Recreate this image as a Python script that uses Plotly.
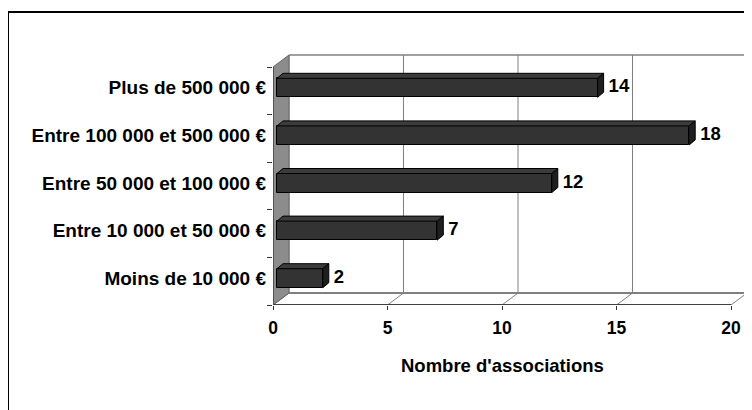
import plotly.graph_objects as go

# ---------------- data ----------------
categories = ["Moins de 10 000 €", "Entre 10 000 et 50 000 €", "Entre 50 000 et 100 000 €",
              "Entre 100 000 et 500 000 €", "Plus de 500 000 €"]
values = [2, 7, 12, 18, 14]
x_ticks = [0, 5, 10, 15, 20]
x_title = "Nombre d'associations"

# ---------------- geometry ----------------
OFF = 8                                # page body margin
W, H = 752 - OFF, 410 - OFF
M_L, M_R, M_T, M_B = 273 - OFF, 0, 50 - OFF, 105
X_MAX = 20
PX_X = 458 / X_MAX                     # pixels per x unit on front plane
PX_Y = 47.6                            # pixels per category
x_range = [0, (W - M_L - M_R) / PX_X]
y_lo = -0.5
y_hi_front = len(categories) - 0.5
y_range = [y_lo, y_lo + (H - M_T - M_B) / PX_Y]

DX, DY = 16 / PX_X, 12 / PX_Y          # full depth of the 3D box
BX, BY = 4 / PX_X, 3 / PX_Y            # bar front-face depth offset
FX, FY = 6 / PX_X, 5 / PX_Y            # bar depth
BAR_W = 19 / PX_Y
LBL_GAP = 5 / PX_X

FONT = "Liberation Sans, Arial, sans-serif"
GRID = "#808080"

fig = go.Figure()
shapes = []


def poly(pts, fill, line_color, lw=1):
    d = "M " + " L ".join(f"{x},{y}" for x, y in pts) + " Z"
    shapes.append(dict(type="path", path=d, xref="x", yref="y", fillcolor=fill,
                       line=dict(color=line_color, width=lw), layer="below"))


def seg(x0, y0, x1, y1, color, lw=1):
    shapes.append(dict(type="line", x0=x0, y0=y0, x1=x1, y1=y1, xref="x", yref="y",
                       line=dict(color=color, width=lw), layer="below"))


# floor
poly([(0, y_lo), (X_MAX, y_lo), (X_MAX + DX, y_lo + DY), (DX, y_lo + DY)], "white", "rgba(0,0,0,0)", 0)
# back wall gridlines + floor diagonals
for v in x_ticks:
    seg(v + DX, y_lo + DY, v + DX, y_hi_front + DY, GRID, 1)
    seg(v, y_lo, v + DX, y_lo + DY, GRID if v else "#555", 1)
# back wall edges
seg(DX, y_hi_front + DY, X_MAX + DX, y_hi_front + DY, GRID, 1.5)
seg(DX, y_lo + DY, X_MAX + DX, y_lo + DY, GRID, 2)
# left wall
poly([(0, y_lo), (0, y_hi_front), (DX, y_hi_front + DY), (DX, y_lo + DY)], "#8c8c8c", "#666", 1)
seg(0, y_lo, 0, y_hi_front, "#444", 1.5)
# front floor edge (x axis line)
seg(0, y_lo, X_MAX, y_lo, "#404040", 2)

# bars: front faces through the bar trace
ypos = list(range(len(categories)))
fig.add_trace(go.Bar(
    y=[p + BY for p in ypos], x=values, base=[BX] * len(values), orientation="h",
    width=BAR_W, marker=dict(color="#333333", line=dict(color="black", width=1)),
    hoverinfo="skip", showlegend=False,
))

# bars: top and side faces
for p, v in zip(ypos, values):
    x0, x1 = BX, BX + v
    yt, yb = p + BY + BAR_W / 2, p + BY - BAR_W / 2
    d_top = f"M {x0},{yt} L {x0+FX},{yt+FY} L {x1+FX},{yt+FY} L {x1},{yt} Z"
    d_side = f"M {x1},{yt} L {x1+FX},{yt+FY} L {x1+FX},{yb+FY} L {x1},{yb} Z"
    shapes.append(dict(type="path", path=d_top, xref="x", yref="y", fillcolor="#3c3c3c",
                       line=dict(color="black", width=1), layer="above"))
    shapes.append(dict(type="path", path=d_side, xref="x", yref="y", fillcolor="#1f1f1f",
                       line=dict(color="black", width=1), layer="above"))

# value labels
fig.add_trace(go.Scatter(
    x=[BX + v + FX + LBL_GAP for v in values], y=[p + BY for p in ypos],
    text=[str(v) for v in values], mode="text", textposition="middle right",
    textfont=dict(family=FONT, size=18.5, color="black", weight="bold"),
    hoverinfo="skip", showlegend=False, cliponaxis=False,
))

# outer frame (clipped at window edges)
px2fx = lambda px: (px - OFF - M_L) / (W - M_L - M_R)
px2fy = lambda py: (H - M_B - (py - OFF)) / (H - M_T - M_B)
shapes.append(dict(type="path", xref="paper", yref="paper",
                   path=f"M {px2fx(8)},{px2fy(430)} L {px2fx(8)},{px2fy(12)} L {px2fx(780)},{px2fy(12)}",
                   line=dict(color="black", width=2)))

fig.add_annotation(x=X_MAX / 2, y=px2fy(365), xref="x", yref="paper", text=x_title,
                   showarrow=False, font=dict(family=FONT, size=18.5, color="black", weight="bold"),
                   xanchor="center", yanchor="middle")

fig.update_layout(
    width=W, height=H, margin=dict(l=M_L, r=M_R, t=M_T, b=M_B, autoexpand=False),
    paper_bgcolor="white", plot_bgcolor="white", shapes=shapes, bargap=0,
    xaxis=dict(range=x_range, tickvals=x_ticks, ticktext=[str(t) for t in x_ticks],
               ticks="outside", ticklen=4, tickcolor="#333", tickwidth=1, ticklabelstandoff=3,
               showgrid=False, zeroline=False, showline=False, automargin=False,
               tickfont=dict(family=FONT, size=17.5, color="black", weight="bold")),
    yaxis=dict(range=y_range, tickmode="array", tickvals=[p + BY for p in ypos], ticktext=categories,
               ticks="", showgrid=False, zeroline=False, showline=False, automargin=False,
               ticklabelstandoff=6,
               minor=dict(ticks="outside", ticklen=5, tickcolor="#333", tickmode="linear",
                          tick0=-0.5, dtick=1, showgrid=False),
               tickfont=dict(family=FONT, size=19, color="black", weight="bold")),
)

fig.write_html("out.html")
